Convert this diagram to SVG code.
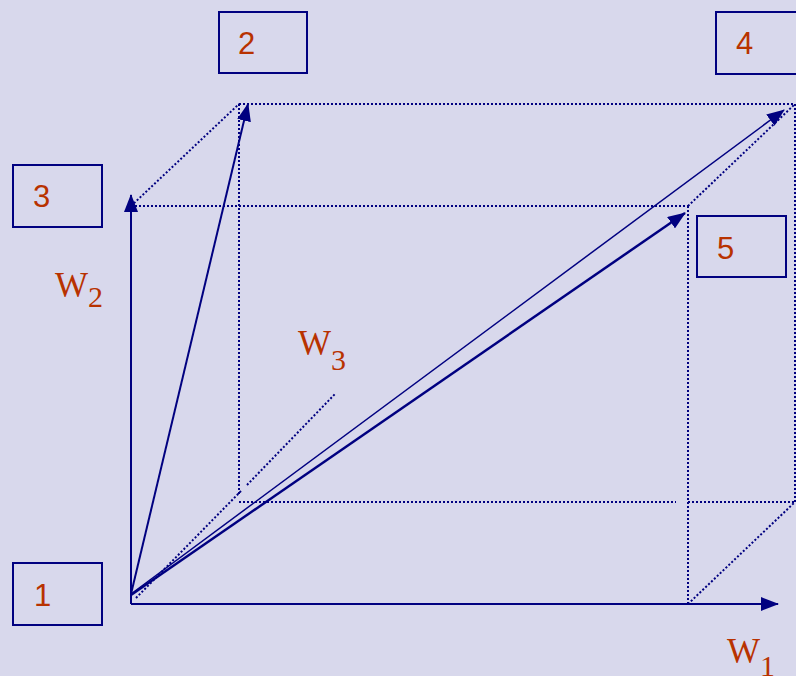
<svg xmlns="http://www.w3.org/2000/svg" width="796" height="676" viewBox="0 0 796 676">
<style>
.box{fill:none;stroke:#000080;stroke-width:2}
.num{font-family:"Liberation Sans",Arial,sans-serif;font-size:31px;fill:#B83200}
.lbl{font-family:"Liberation Serif","Times New Roman",serif;font-size:35px;fill:#B83200}
.sub{font-size:30px}
.dot{stroke:#000080;stroke-width:2;stroke-dasharray:2 2;fill:none}
.axis{stroke:#000080;stroke-width:2;fill:none}
.vec{stroke:#000080;fill:none}
</style>
<defs>
<marker id="ah" markerUnits="userSpaceOnUse" markerWidth="18" markerHeight="14" refX="17" refY="7" orient="auto" viewBox="0 0 18 14">
<path d="M0,0 L18,7 L0,14 Z" fill="#000080"/>
</marker>
</defs>
<rect width="796" height="676" fill="#D8D8EC"/>
<g id="connectors">
<g id="cube">
<line class="dot" x1="131" y1="206" x2="688" y2="206"/>
<line class="dot" x1="688" y1="206" x2="688" y2="604"/>
<line class="dot" x1="239" y1="104" x2="795" y2="104"/>
<line class="dot" x1="795" y1="104" x2="795" y2="502"/>
<line class="dot" x1="239" y1="104" x2="239" y2="496"/>
<line class="dot" x1="239" y1="502" x2="676" y2="502"/>
<line class="dot" x1="688" y1="502" x2="795" y2="502"/>
<line class="dot" x1="131" y1="206" x2="239" y2="104"/>
<line class="dot" x1="688" y1="206" x2="795" y2="104"/>
<line class="dot" x1="688" y1="604" x2="795" y2="502"/>
<line class="dot" x1="136" y1="598" x2="241" y2="491"/>
<line class="dot" x1="247" y1="485" x2="335" y2="394"/>
</g>
<line class="axis" x1="131" y1="604" x2="131" y2="195" marker-end="url(#ah)"/>
<line class="axis" x1="131" y1="604" x2="778" y2="604" marker-end="url(#ah)"/>
<line class="vec" stroke-width="2" x1="131" y1="594" x2="248" y2="104" marker-end="url(#ah)"/>
<line class="vec" stroke-width="1.5" x1="131" y1="594" x2="784" y2="110" marker-end="url(#ah)"/>
<line class="vec" stroke-width="2.5" x1="131" y1="595" x2="685" y2="213" marker-end="url(#ah)"/>
</g>
<g id="node1"><rect class="box" x="13" y="563" width="89" height="62"/><text class="num" x="34" y="606">1</text></g>
<g id="node2"><rect class="box" x="219" y="12" width="88" height="61"/><text class="num" x="238" y="54">2</text></g>
<g id="node3"><rect class="box" x="13" y="165" width="89" height="62"/><text class="num" x="33" y="207">3</text></g>
<g id="node4"><rect class="box" x="716" y="12" width="90" height="62"/><text class="num" x="736" y="54">4</text></g>
<g id="node5"><rect class="box" x="697" y="216" width="89" height="61"/><text class="num" x="717" y="259">5</text></g>
<g id="labels">
<text class="lbl" x="55" y="297">W<tspan class="sub" dy="10">2</tspan></text>
<text class="lbl" x="298" y="355">W<tspan class="sub" dy="15">3</tspan></text>
<text class="lbl" x="727" y="663">W<tspan class="sub" dy="13">1</tspan></text>
</g>
</svg>
